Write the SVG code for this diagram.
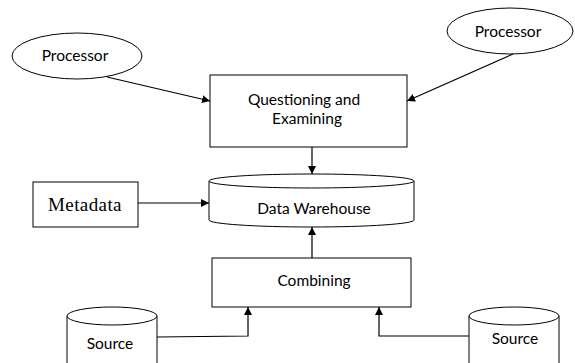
<svg xmlns="http://www.w3.org/2000/svg" width="575" height="363" viewBox="0 0 575 363">
<style>
.s{fill:#fff;stroke:#000;stroke-width:1}
.t{font-family:Lato,"Open Sans",sans-serif;font-size:15.5px;fill:#000;text-anchor:middle}
.m{font-family:"Liberation Serif",serif;font-size:19px;fill:#000;text-anchor:middle;letter-spacing:0.4px}
.c{fill:none;stroke:#000;stroke-width:1.2}
</style>
<defs>
<marker id="a" viewBox="0 0 10 10" refX="10" refY="5" markerWidth="8" markerHeight="8" markerUnits="userSpaceOnUse" orient="auto">
<path d="M0,0L10,5L0,10z" fill="#000"/>
</marker>
</defs>
<rect width="575" height="363" fill="#fff"/>
<g id="processor-left">
<ellipse class="s" cx="77" cy="56" rx="65" ry="23"/>
<text class="t" x="75" y="61">Processor</text>
</g>
<g id="processor-right">
<ellipse class="s" cx="510" cy="31" rx="63" ry="23"/>
<text class="t" x="508" y="37">Processor</text>
</g>
<g id="questioning">
<rect class="s" x="210" y="75" width="197" height="72"/>
<text class="t" x="304" y="105">Questioning and</text>
<text class="t" x="307" y="124">Examining</text>
</g>
<g id="warehouse">
<path class="s" d="M209,181 A102.5,7 0 0 1 414,181 V220 A102.5,7 0 0 1 209,220 Z"/>
<path class="s" d="M209,181 A102.5,7 0 0 0 414,181"/>
<text class="t" x="314" y="214">Data Warehouse</text>
</g>
<g id="metadata">
<rect class="s" x="33" y="182" width="105" height="45"/>
<text class="m" x="85" y="211">Metadata</text>
</g>
<g id="combining">
<rect class="s" x="212" y="258" width="199" height="49"/>
<text class="t" x="314" y="286">Combining</text>
</g>
<g id="source-left">
<path class="s" d="M67,316 A45,9 0 0 1 157,316 V372 A45,9 0 0 1 67,372 Z"/>
<path class="s" d="M67,316 A45,9 0 0 0 157,316"/>
<text class="t" x="110" y="349">Source</text>
</g>
<g id="source-right">
<path class="s" d="M469,316 A45,9 0 0 1 559,316 V372 A45,9 0 0 1 469,372 Z"/>
<path class="s" d="M469,316 A45,9 0 0 0 559,316"/>
<text class="t" x="515" y="344">Source</text>
</g>
<g id="connectors">
<line class="c" x1="107" y1="77" x2="210" y2="101" marker-end="url(#a)"/>
<line class="c" x1="513" y1="54" x2="407" y2="101" marker-end="url(#a)"/>
<line class="c" x1="312" y1="147" x2="312" y2="174" marker-end="url(#a)"/>
<line class="c" x1="138" y1="203" x2="209" y2="203" marker-end="url(#a)"/>
<line class="c" x1="312" y1="258" x2="312" y2="227" marker-end="url(#a)"/>
<polyline class="c" points="157,337 248,336 248,307" marker-end="url(#a)"/>
<polyline class="c" points="469,336 379,336 379,307" marker-end="url(#a)"/>
</g>
</svg>
